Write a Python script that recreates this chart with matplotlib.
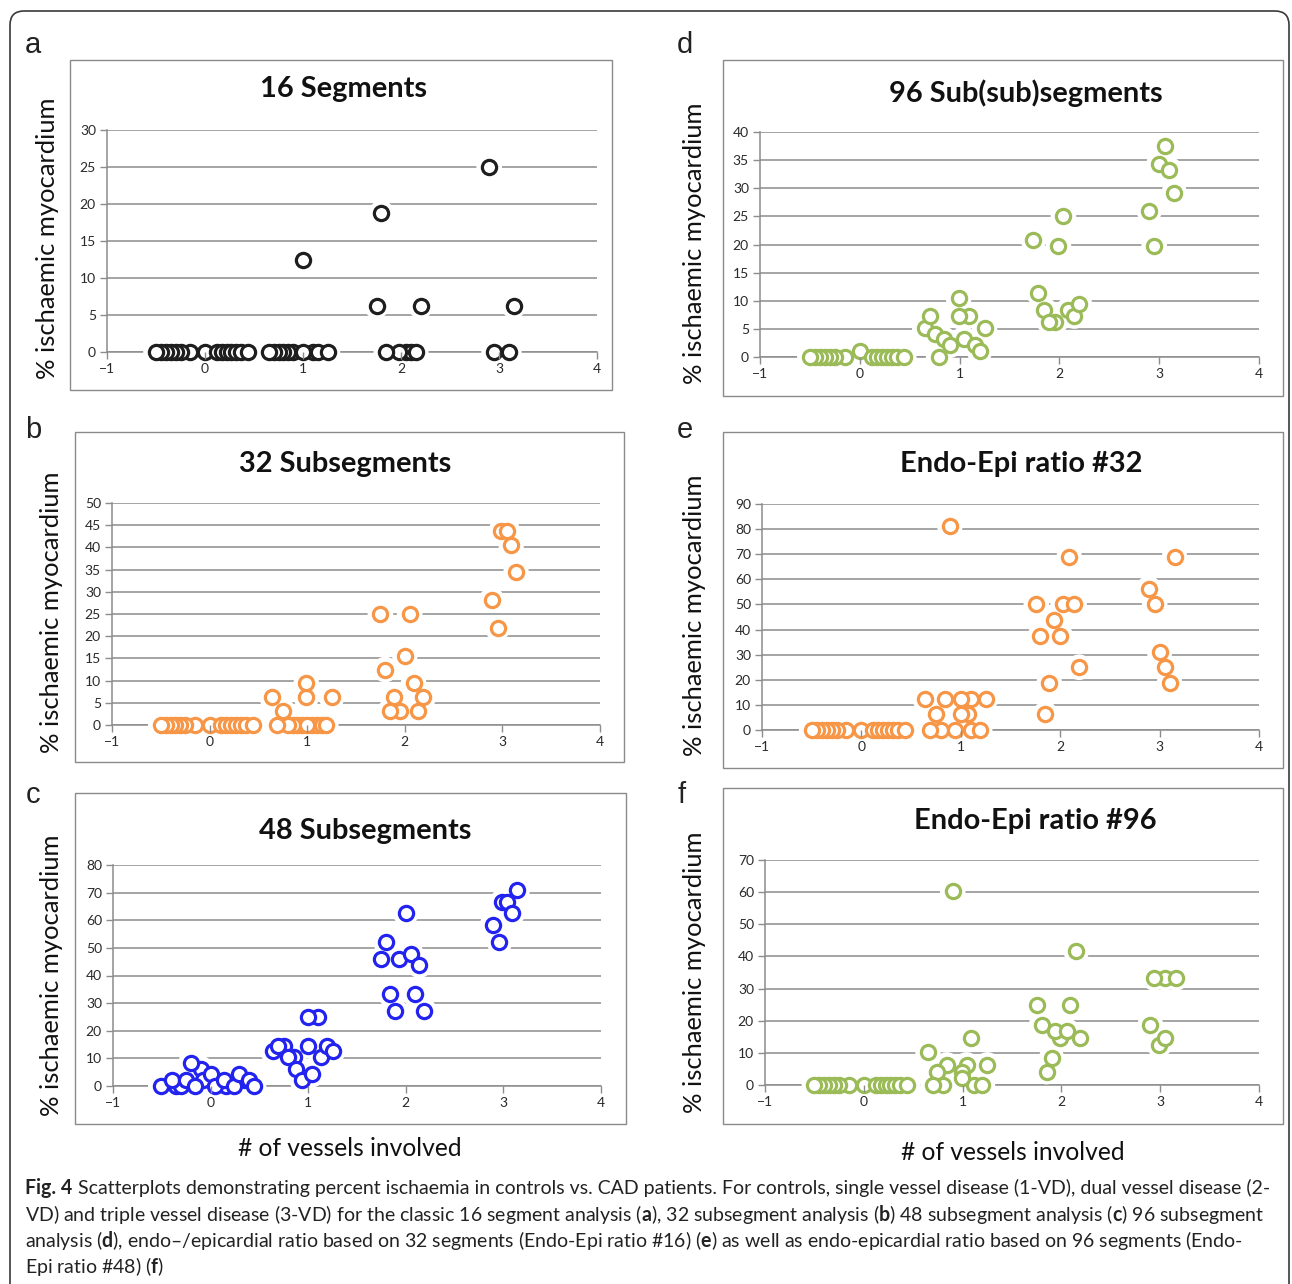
import matplotlib
matplotlib.use("Agg")
import matplotlib.pyplot as plt
import matplotlib.font_manager as fm
from matplotlib.patches import Rectangle, FancyBboxPatch

# ---------------- data ----------------
CTRL_X = [0.0, -0.15, 0.12, -0.25, 0.17, -0.3, 0.22, -0.35, 0.27, -0.4, 0.32, -0.45, 0.37, 0.44, -0.5]

# a: 16 Segments
A_X = CTRL_X + [0.9, 0.85, 0.8, 0.75, 1.1, 1.15, 0.7, 1.0, 1.25, 0.65, 1.0,
                2.05, 2.1, 1.98, 1.85, 2.15, 1.75, 1.8, 2.2,
                2.9, 2.95, 3.1, 3.15]
A_Y = [0] * 15 + [0, 0, 0, 0, 0, 0, 0, 0, 0, 0, 12.5,
                  0, 0, 0, 0, 0, 6.25, 18.75, 6.25,
                  25, 0, 0, 6.25]

# b: 32 Subsegments
B_X = CTRL_X + [0.95, 1.05, 0.9, 1.1, 0.85, 1.15, 1.0, 0.8, 1.19, 0.69, 0.75, 0.64, 0.99, 0.99, 1.25,
                1.75, 1.8, 1.95, 1.85, 1.89, 2.0, 2.05, 2.09, 2.14, 2.19,
                2.89, 2.95, 2.99, 3.05, 3.09, 3.14]
B_Y = [0] * 15 + [0, 0, 0, 0, 0, 0, 0, 0, 0, 0, 3.125, 6.25, 6.25, 9.375, 6.25,
                  25, 12.5, 3.125, 3.125, 6.25, 15.625, 25, 9.375, 3.125, 6.25,
                  28.125, 21.875, 43.75, 43.75, 40.625, 34.375]

# c: 48 Subsegments
C_X = [-0.35, -0.3, -0.1, -0.08, 0.16, 0.35, -0.51, -0.4, -0.25, -0.2, -0.16, 0.0, 0.04, 0.14, 0.24, 0.29, 0.39, 0.44,
       0.75, 0.85, 1.1, 0.64, 0.69, 0.79, 0.88, 0.94, 1.0, 1.0, 1.04, 1.13, 1.19, 1.25,
       1.75, 1.8, 1.84, 1.89, 1.93, 2.0, 2.05, 2.09, 2.14, 2.19,
       2.99, 2.89, 2.96, 3.04, 3.09, 3.14]
C_Y = [0, 0, 6.25, 2.08, 0, 2.08, 0, 2.08, 2.08, 8.33, 0, 4.17, 0, 2.08, 0, 4.17, 2.08, 0,
       14.58, 10.42, 25, 12.5, 14.58, 10.42, 6.25, 2.08, 25, 14.58, 4.17, 10.42, 14.58, 12.5,
       45.83, 52.08, 33.33, 27.08, 45.83, 62.5, 47.92, 33.33, 43.75, 27.08,
       66.67, 58.33, 52.08, 66.67, 62.5, 70.83]

# d: 96 Sub(sub)segments
D_X = CTRL_X + [1.09, 0.65, 0.7, 0.75, 0.79, 0.84, 0.9, 0.99, 0.99, 1.04, 1.15, 1.2, 1.25,
                1.96, 1.74, 1.79, 1.85, 1.9, 1.99, 2.04, 2.09, 2.15, 2.2,
                2.9, 2.95, 3.0, 3.06, 3.1, 3.15]
D_Y = [1.04] + [0] * 14 + [7.29, 5.21, 7.29, 4.17, 0, 3.13, 2.08, 10.42, 7.29, 3.13, 2.08, 1.04, 5.21,
                           6.25, 20.83, 11.46, 8.33, 6.25, 19.79, 25, 8.33, 7.29, 9.38,
                           26.04, 19.79, 34.38, 37.5, 33.33, 29.17]

# e: Endo-Epi ratio #32
E_X = CTRL_X + [1.1, 1.07, 1.1, 0.8, 0.69, 0.94, 1.19, 0.75, 1.0, 0.64, 0.84, 1.0, 1.25, 0.89,
                2.03, 1.76, 2.14, 1.94, 1.8, 2.0, 2.19, 1.89, 1.85, 2.09,
                3.15, 2.89, 2.95, 3.0, 3.05, 3.1]
E_Y = [0] * 15 + [0, 6.25, 12.5, 0, 0, 0, 0, 6.25, 6.25, 12.5, 12.5, 12.5, 12.5, 81.25,
                  50, 50, 50, 43.75, 37.5, 37.5, 25, 18.75, 6.25, 68.75,
                  68.75, 56.25, 50, 31.25, 25, 18.75]

# f: Endo-Epi ratio #96
F_X = CTRL_X + [1.04, 0.99, 0.8, 1.12, 0.65, 0.9, 1.09, 0.84, 1.25, 0.74, 0.99, 0.7, 1.2,
                1.99, 1.75, 2.09, 1.8, 1.94, 2.06, 2.19, 1.9, 1.85, 2.15,
                3.05, 2.94, 3.16, 2.9, 2.99, 3.05]
F_Y = [0] * 15 + [6.25, 4.17, 0, 0, 10.42, 60.42, 14.58, 6.25, 6.25, 4.17, 2.08, 0, 0,
                  14.58, 25, 25, 18.75, 16.67, 16.67, 14.58, 8.33, 4.17, 41.67,
                  33.33, 33.33, 33.33, 18.75, 12.5, 14.58]

TITLES = ["16 Segments", "32 Subsegments", "48 Subsegments",
          "96 Sub(sub)segments", "Endo-Epi ratio #32", "Endo-Epi ratio #96"]
LETTERS = ["a", "b", "c", "d", "e", "f"]
Y_MAX = [30, 50, 80, 40, 90, 70]
Y_STEP = [5, 5, 10, 5, 10, 10]
X_TICKS = [-1, 0, 1, 2, 3, 4]
Y_LABEL = "% ischaemic myocardium"
X_LABEL = "# of vessels involved"
CAPTION_HEAD = "Fig. 4"
CAPTION = [
    r"Scatterplots demonstrating percent ischaemia in controls vs. CAD patients. For controls, single vessel disease (1-VD), dual vessel disease (2-",
    r"VD) and triple vessel disease (3-VD) for the classic 16 segment analysis ($\mathbf{a}$), 32 subsegment analysis ($\mathbf{b}$) 48 subsegment analysis ($\mathbf{c}$) 96 subsegment",
    r"analysis ($\mathbf{d}$), endo–/epicardial ratio based on 32 segments (Endo-Epi ratio #16) ($\mathbf{e}$) as well as endo-epicardial ratio based on 96 segments (Endo-",
    r"Epi ratio #48) ($\mathbf{f}$)",
]

# ---------------- style ----------------
names = {f.name for f in fm.fontManager.ttflist}
CHART_FONT = "Lato" if "Lato" in names else "DejaVu Sans"
CAP_FONT = "Liberation Sans Narrow" if "Liberation Sans Narrow" in names else CHART_FONT
LET_FONT = "Liberation Sans" if "Liberation Sans" in names else "DejaVu Sans"
plt.rcParams["font.family"] = [CHART_FONT, "DejaVu Sans"]
plt.rcParams["mathtext.fontset"] = "custom"
plt.rcParams["mathtext.rm"] = CAP_FONT
plt.rcParams["mathtext.bf"] = CAP_FONT + ":bold"
plt.rcParams["mathtext.it"] = CAP_FONT

ORANGE = "#F79646"
GREEN = "#9BBB59"
BLUE = "#2323F0"
BLACK = "#1E1E1E"
GRID = "#8C8C8C"

W, H = 1292, 1284
fig = plt.figure(figsize=(W / 100, H / 100), dpi=100)
ov = fig.add_axes([0, 0, 1, 1], zorder=0)
ov.set_xlim(0, W)
ov.set_ylim(H, 0)
ov.axis("off")

# outer rounded frame
ov.add_patch(FancyBboxPatch((10, 11), 1279, 1400, boxstyle="round,pad=0,rounding_size=14",
                            fill=False, ec="#3a3a3a", lw=1.2))

series = [(A_X, A_Y, BLACK), (B_X, B_Y, ORANGE), (C_X, C_Y, BLUE),
          (D_X, D_Y, GREEN), (E_X, E_Y, ORANGE), (F_X, F_Y, GREEN)]

# layout (pixels): axes (l,t,r,b), frame (l,t,r,b), title centre, ylabel centre, letter
AX_BOX = [(107, 130, 597, 352), (112, 503, 600, 725), (113, 865, 601, 1086),
          (760, 132, 1259, 357), (762, 504, 1259, 730), (765, 860, 1259, 1085)]
FRAME = [(70, 60, 612, 390), (75, 432, 624, 762), (75, 793, 626, 1124),
         (723, 60, 1283, 396), (723, 432, 1283, 768), (723, 788, 1283, 1124)]
TITLE_XY = [(343, 89), (345, 464), (365, 831), (1026, 93), (1021, 464), (1035, 821)]
YLAB_XY = [(48, 238), (52, 612), (52, 975), (695, 243), (695, 615), (695, 972)]
LET_XY = [(33, 45), (33, 430), (33, 795), (685, 45), (685, 430), (682, 795)]

titles, ylabs = [], []
for i in range(6):
    l, t, r, b = AX_BOX[i]
    ax = fig.add_axes([l / W, 1 - b / H, (r - l) / W, (b - t) / H], zorder=2)
    ax.patch.set_alpha(0)
    xs, ys, col = series[i]
    ax.set_xlim(-1, 4)
    ax.set_ylim(0, Y_MAX[i])
    ax.set_xticks(X_TICKS)
    ax.set_yticks(list(range(0, Y_MAX[i] + 1, Y_STEP[i])))
    ax.grid(axis="y", color=GRID, lw=1.1)
    ax.set_axisbelow(True)
    ax.xaxis.set_zorder(4)
    for s in ("top", "right"):
        ax.spines[s].set_visible(False)
    for s in ("left", "bottom"):
        ax.spines[s].set_color(GRID)
        ax.spines[s].set_linewidth(1.1)
    ax.tick_params(direction="out", length=5, width=1.0, color=GRID,
                   labelsize=10, labelcolor="#2a2a2a", pad=3)
    ax.scatter(xs, ys, s=340, c="white", edgecolors="none", zorder=2.6, clip_on=False)
    ax.scatter(xs, ys, s=105, facecolors="white", edgecolors=col, linewidths=2.3,
               zorder=3, clip_on=False)

    fl, ft, fr, fb = FRAME[i]
    ov.add_patch(Rectangle((fl, ft), fr - fl, fb - ft, fill=False, ec="#8a8a8a", lw=1.0))
    titles.append(ov.text(*TITLE_XY[i], TITLES[i], ha="center", va="center",
                          fontsize=18, fontweight="bold", color="#111111"))
    ylabs.append(ov.text(*YLAB_XY[i], Y_LABEL, ha="center", va="center", rotation=90,
                         fontsize=17, color="#111111"))
    ov.text(*LET_XY[i], LETTERS[i], ha="center", va="center", fontsize=21,
            family=LET_FONT, color="#222222")

xl1 = ov.text(350, 1148, X_LABEL, ha="center", va="center", fontsize=16, color="#111111")
xl2 = ov.text(1013, 1153, X_LABEL, ha="center", va="center", fontsize=16, color="#111111")

CAP_Y = [1188, 1214, 1241, 1267]
head = ov.text(25, CAP_Y[0], CAPTION_HEAD, ha="left", va="center", fontsize=13,
               fontweight="bold", family=[CAP_FONT, "DejaVu Sans"], color="#222222")
caps = []
for k, (line, y) in enumerate(zip(CAPTION, CAP_Y)):
    caps.append(ov.text(25, y, line, ha="left", va="center", fontsize=13,
                        family=[CAP_FONT, "DejaVu Sans"], color="#222222"))

# fit text sizes to reference extents
fig.canvas.draw()
rend = fig.canvas.get_renderer()

def fit(txt, target, attr="width"):
    bb = txt.get_window_extent(rend)
    cur = bb.width if attr == "width" else bb.height
    return txt.get_fontsize() * target / cur

ts = fit(titles[3], 273)
for t in titles:
    t.set_fontsize(ts)
ys_ = fit(ylabs[0], 280, "height")
for t in ylabs:
    t.set_fontsize(ys_)
xs_ = fit(xl1, 225)
xl1.set_fontsize(xs_)
xl2.set_fontsize(xs_)

# caption: head + first line together span 1247 px
hw = head.get_window_extent(rend).width
lw0 = caps[0].get_window_extent(rend).width
gap = 0.3 * 13 * 100 / 72
cs = 13 * 1247 / (hw + lw0 + gap)
head.set_fontsize(cs)
for t in caps:
    t.set_fontsize(cs)
fig.canvas.draw()
hw = head.get_window_extent(rend).width
caps[0].set_x(25 + hw + 0.3 * cs * 100 / 72)

fig.savefig("out.png", dpi=100)
